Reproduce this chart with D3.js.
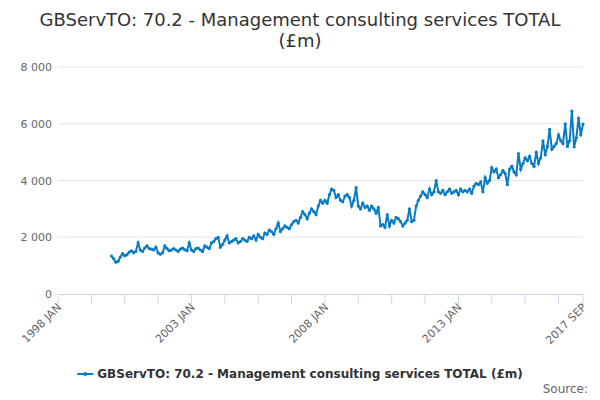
<!DOCTYPE html>
<html><head><meta charset="utf-8">
<script src="https://cdn.jsdelivr.net/npm/d3@7"></script>
<style>body{margin:0;background:#fff}svg{font-family:"DejaVu Sans",sans-serif}</style>
</head><body><svg id="c" width="600" height="400"></svg>
<script>
const title = ["GBServTO: 70.2 - Management consulting services TOTAL", "(£m)"];
const seriesName = "GBServTO: 70.2 - Management consulting services TOTAL (£m)";
const startYear = 2000;
const values = [
  1340,1250,1120,1150,1300,1420,1350,1380,1480,1520,1450,1500,
  1800,1550,1500,1620,1700,1600,1580,1550,1650,1450,1400,1450,
  1700,1600,1520,1550,1600,1550,1500,1580,1620,1560,1520,1800,
  1550,1500,1600,1620,1550,1500,1700,1650,1600,1800,1850,1950,
  2000,1650,1750,1900,2050,1800,1850,1900,1950,1800,1850,1950,
  1900,1850,2000,1950,2050,1900,2100,2000,1950,2150,2100,2250,
  2200,2100,2300,2500,2200,2300,2400,2350,2300,2450,2550,2600,
  2500,2700,2900,2800,2650,2850,3000,2900,2800,3100,3300,3200,
  3300,3200,3500,3700,3650,3400,3500,3300,3250,3450,3500,3400,
  3100,3300,3750,3100,3000,3200,3050,3100,2950,3100,3000,2850,
  3050,2400,2450,2350,2800,2400,2600,2500,2700,2650,2550,2400,
  2500,2600,3000,2550,2600,3100,3300,3450,3600,3500,3400,3700,
  3500,3600,4000,3600,3550,3650,3500,3600,3700,3550,3600,3650,
  3500,3700,3600,3650,3600,3700,3550,3800,3900,3850,3950,3600,
  4100,3900,4000,4450,4300,4400,4100,4200,4350,4250,3850,4400,
  4500,4300,4200,4950,4400,4600,4800,4700,4850,4600,4500,5000,
  4600,4800,5400,4900,5200,5800,5100,5200,5300,5600,5400,5300,
  6000,5200,5400,6450,5180,5500,6200,5600,5990
];
const yTicks = [0, 2000, 4000, 6000, 8000];
const xLabels = ["1998 JAN", "2003 JAN", "2008 JAN", "2013 JAN", "2017 SEP"];
const months = ["JAN","FEB","MAR","APR","MAY","JUN","JUL","AUG","SEP","OCT","NOV","DEC"];

// months since 1998 JAN
const first = 0, last = (2017 - 1998) * 12 + 8;
const offset = (startYear - 1998) * 12;
const data = values.map((v, i) => ({m: offset + i, v}));

const svg = d3.select("#c");
const x = d3.scaleLinear().domain([first, last]).range([58, 583]);
const y = d3.scaleLinear().domain([0, 8000]).range([294, 67]);

svg.selectAll("text.title").data(title).join("text")
  .attr("x", 300).attr("y", (d, i) => 26 + i * 21)
  .attr("text-anchor", "middle").attr("font-size", 18).attr("fill", "#333").text(d => d);

svg.selectAll("line.grid").data(yTicks.slice(1)).join("line")
  .attr("x1", 58).attr("x2", 583).attr("y1", d => y(d)).attr("y2", d => y(d))
  .attr("stroke", "#e6e6e6");

svg.selectAll("text.yl").data(yTicks).join("text")
  .attr("x", 52).attr("y", d => y(d) + 4).attr("text-anchor", "end")
  .attr("font-size", 11).attr("fill", "#666")
  .text(d => d3.format(",")(d).replace(",", " "));

// x axis: ticks every 15 months plus the end
const tickM = d3.range(first, last, 15).concat([last]);
svg.append("line").attr("x1", 58).attr("x2", 583).attr("y1", 294.5).attr("y2", 294.5).attr("stroke", "#ccd6eb");
svg.selectAll("line.xt").data(tickM).join("line")
  .attr("x1", d => x(d)).attr("x2", d => x(d)).attr("y1", 294).attr("y2", 304)
  .attr("stroke", "#ccd6eb");
const labM = tickM.filter((d, i) => i % 4 === 0 || d === last);
svg.selectAll("text.xl").data(labM).join("text")
  .attr("transform", d => `translate(${x(d) + 4},${308}) rotate(-45)`)
  .attr("text-anchor", "end").attr("font-size", 11).attr("fill", "#666")
  .text((d, i) => xLabels[i]);

const line = d3.line().x(d => x(d.m)).y(d => y(d.v));
svg.append("path").datum(data).attr("d", line)
  .attr("fill", "none").attr("stroke", "#0a7cc1").attr("stroke-width", 2);
svg.selectAll("circle.pt").data(data).join("circle")
  .attr("cx", d => x(d.m)).attr("cy", d => y(d.v)).attr("r", 1.6).attr("fill", "#0a7cc1");

// legend
const lg = svg.append("g").attr("transform", "translate(300,378)");
const lt = lg.append("text").attr("x", 0).attr("y", 0).attr("text-anchor", "middle")
  .attr("font-size", 12).attr("font-weight", "bold").attr("fill", "#333").attr("dx", 10).text(seriesName);
const bb = lt.node().getBBox();
lg.append("line").attr("x1", bb.x - 20).attr("x2", bb.x - 4).attr("y1", -4).attr("y2", -4)
  .attr("stroke", "#0a7cc1").attr("stroke-width", 2);
lg.append("circle").attr("cx", bb.x - 12).attr("cy", -4).attr("r", 2).attr("fill", "#0a7cc1");

svg.append("text").attr("x", 588).attr("y", 393).attr("text-anchor", "end")
  .attr("font-size", 12).attr("fill", "#666").text("Source:");
</script></body></html>
